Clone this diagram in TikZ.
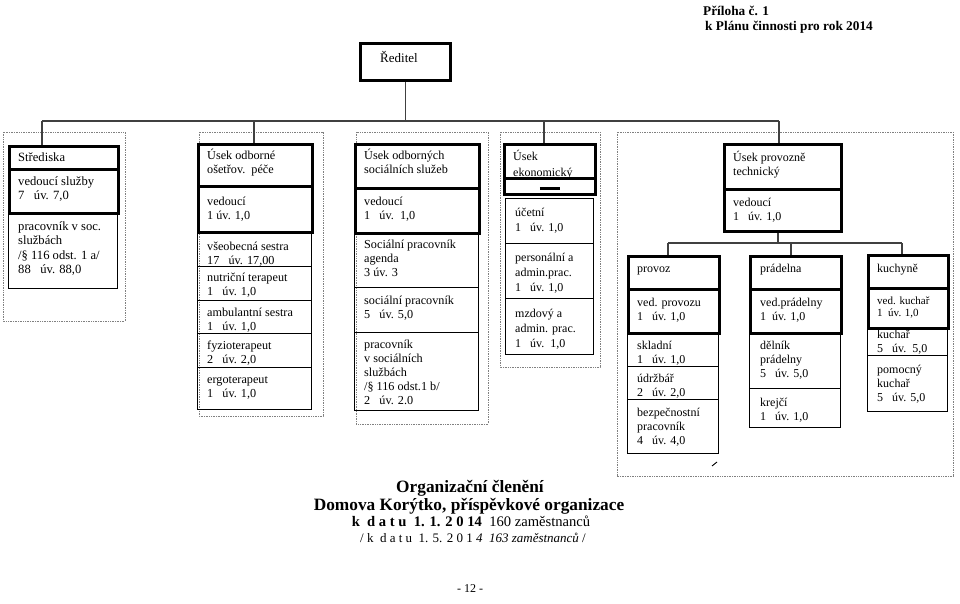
\documentclass[tikz,border=0pt]{standalone}
\usepackage{fontspec}
\setmainfont{Liberation Serif}
\newcommand\cellfont{\fontsize{12.2}{14}\selectfont\lineskiplimit=-30pt\relax}
\newcommand\widefont{\fontsize{12}{15.3}\selectfont\lineskiplimit=-30pt\relax}
\newcommand\midfont{\fontsize{12}{14.3}\selectfont\lineskiplimit=-30pt\relax}
\newcommand\firstfont{\fontsize{12.6}{14.4}\selectfont\lineskiplimit=-30pt\relax}
\newcommand\smallcellfont{\fontsize{11}{12.7}\selectfont\lineskiplimit=-30pt\relax}
\newcommand\mkcell[9][]{%
 \node[#2, anchor=north west, minimum width={#6-#4}, minimum height={#7-#5}] (#3) at (#4,#5) {};
 \node[celltext, #1] (#3t) at ({#4+10},{#8-11}) {\rule{0pt}{11pt}#9};}
\tikzset{
 thickbox/.style={draw=black, line width=2.8pt, inner sep=0pt},
 thinbox/.style={draw=black, line width=1pt, inner sep=0pt},
 dotbox/.style={draw=black!50, densely dotted, line width=0.7pt},
 conn/.style={draw=black!75, line width=1.1pt},
 celltext/.style={anchor=north west, align=left, inner sep=0pt, font=\cellfont},
 fwide/.style={font=\widefont},
 fmid/.style={font=\midfont},
 ffirst/.style={font=\firstfont},
 fsmall/.style={font=\smallcellfont},
}
\begin{document}
\begin{tikzpicture}[x=1pt,y=-1pt]
\useasboundingbox[fill=white] (0,0) rectangle (960,603);

% header
\node[font=\bfseries\fontsize{13.3}{15}\selectfont, anchor=base west, inner sep=0pt] (h1) at (703,15) {Příloha č. 1};
\node[font=\bfseries\fontsize{13.3}{15}\selectfont, anchor=base west, inner sep=0pt] (h2) at (705,30) {k Plánu činnosti pro rok 2014};

% dotted group frames
\draw[dotbox] (3,132) rectangle (125,321);
\draw[dotbox] (199,132) rectangle (323,416);
\draw[dotbox] (356,132) rectangle (488,424);
\draw[dotbox] (500,132) rectangle (600,367);
\draw[dotbox] (617,132) rectangle (953,476);

% director
\node[thickbox, anchor=north west, minimum width=90, minimum height=37] (red) at (359,42) {};
\node[font=\fontsize{13}{15}\selectfont, anchor=base, inner sep=0pt] (redt) at (399,62) {Ředitel};

% column 1
\mkcell[ffirst]{thinbox}{c1c}{8}{212}{117}{288}{230}{pracovník v soc.\\službách\\/§ 116 odst. 1 a/\\88~~~úv. 88,0}
\mkcell[ffirst]{thickbox}{c1a}{8}{145}{117}{168}{161}{Střediska}
\mkcell[ffirst]{thickbox}{c1b}{8}{168}{117}{212}{185}{vedoucí služby\\7~~~úv. 7,0}

% column 2
\mkcell{thinbox}{c2c}{197}{231}{311}{266}{250}{všeobecná sestra\\17~~~úv. 17,00}
\mkcell{thinbox}{c2d}{197}{266}{311}{300}{281}{nutriční terapeut\\1~~~úv. 1,0}
\mkcell{thinbox}{c2e}{197}{300}{311}{333}{316}{ambulantní sestra\\1~~~úv. 1,0}
\mkcell{thinbox}{c2f}{197}{333}{311}{367}{349}{fyzioterapeut\\2~~~úv. 2,0}
\mkcell{thinbox}{c2g}{197}{367}{311}{409}{383}{ergoterapeut\\1~~~úv. 1,0}
\mkcell{thickbox}{c2a}{197}{143}{311}{185}{159}{Úsek odborné\\ošetřov.~~péče}
\mkcell{thickbox}{c2b}{197}{185}{311}{231}{205}{vedoucí\\1 úv. 1,0}

% column 3
\mkcell{thinbox}{c3c}{354}{232}{478}{287}{248}{Sociální pracovník\\agenda\\3 úv. 3}
\mkcell{thinbox}{c3d}{354}{287}{478}{332}{304}{sociální pracovník\\5~~~úv. 5,0}
\mkcell{thinbox}{c3e}{354}{332}{478}{410}{348}{pracovník\\v sociálních\\službách\\/§ 116 odst.1 b/\\2~~~úv. 2.0}
\mkcell{thickbox}{c3a}{354}{143}{478}{187}{159}{Úsek odborných\\sociálních služeb}
\mkcell{thickbox}{c3b}{354}{187}{478}{232}{205}{vedoucí\\1~~~úv.~~1,0}

% column 4
\mkcell[fwide]{thinbox}{c4c}{505}{198}{593}{243}{216}{účetní\\1~~~úv. 1,0}
\mkcell[fwide]{thinbox}{c4d}{505}{243}{593}{298}{261}{personální a\\admin.prac.\\1~~~úv. 1,0}
\mkcell[fwide]{thinbox}{c4e}{505}{298}{593}{354}{317}{mzdový a\\admin. prac.\\1~~~úv.~~1,0}
\mkcell[fwide,font=\fontsize{12}{16}\selectfont]{thickbox}{c4a}{503}{143}{594}{177}{160}{Úsek\\ekonomický}
\node[thickbox, anchor=north west, minimum width=91, minimum height=16] (c4b) at (503,177) {};
\draw[line width=2.6pt] ([xshift=-10pt,yshift=-2pt]c4b.center) -- ([xshift=10pt,yshift=-2pt]c4b.center);

% column 5 head
\mkcell[fmid]{thickbox}{c5a}{723}{143}{840}{188}{161}{Úsek provozně\\technický}
\mkcell[fmid]{thickbox}{c5b}{723}{188}{840}{230}{206}{vedoucí\\1~~~úv. 1,0}

% provoz
\mkcell[fmid]{thinbox}{p3}{627}{332}{718}{366}{349}{skladní\\1~~~úv. 1,0}
\mkcell[fmid]{thinbox}{p4}{627}{366}{718}{399}{382}{údržbář\\2~~~úv. 2,0}
\mkcell[fmid]{thinbox}{p5}{627}{399}{718}{453}{416}{bezpečnostní\\pracovník\\4~~~úv. 4,0}
\mkcell[fmid]{thickbox}{p1}{627}{255}{718}{288}{272}{provoz}
\mkcell[fmid]{thickbox}{p2}{627}{288}{718}{332}{306}{ved. provozu\\1~~~úv. 1,0}

% pradelna
\mkcell[fmid,xshift=1pt]{thinbox}{r3}{749}{332}{840}{388}{349}{dělník\\prádelny\\5~~~úv. 5,0}
\mkcell[fmid,xshift=1pt]{thinbox}{r4}{749}{388}{840}{427}{406}{krejčí\\1~~~úv. 1,0}
\mkcell[fmid,xshift=1pt]{thickbox}{r1}{749}{255}{840}{288}{272}{prádelna}
\mkcell[fmid,xshift=1pt]{thickbox}{r2}{749}{288}{840}{332}{306}{ved.prádelny\\1~~úv. 1,0}

% kuchyne
\mkcell[fmid]{thinbox}{k3}{867}{327}{947}{355}{338}{kuchař\\5~~~úv.~~5,0}
\mkcell[fmid]{thinbox}{k4}{867}{355}{947}{411}{373}{pomocný\\kuchař\\5~~~úv. 5,0}
\mkcell[fmid]{thickbox}{k1}{867}{254}{947}{287}{272}{kuchyně}
\mkcell[fsmall]{thickbox}{k2}{867}{287}{947}{327}{304}{ved. kuchař\\1~~úv. 1,0}

% connectors
\coordinate (busL) at (42,121);
\coordinate (busR) at (779,121);
\coordinate (d2) at (254,121);
\coordinate (d4) at (544,121);
\draw[conn] (red.south) -- (red.south |- busL);
\draw[conn] (busL) -- (busR);
\draw[conn] (busL) -- (busL |- c1a.north);
\draw[conn] (d2) -- (d2 |- c2a.north);
\draw[conn] (d4) -- (d4 |- c4a.north);
\draw[conn] (busR) -- (busR |- c5a.north);

\coordinate (pb) at (778,243);
\coordinate (pbL) at (668,243);
\coordinate (pbM) at (791,243);
\coordinate (pbR) at (902,243);
\draw[conn] (c5b.south -| pb) -- (pb);
\draw[conn] (pbL) -- (pbR);
\draw[conn] (pbL) -- (pbL |- p1.north);
\draw[conn] (pbM) -- (pbM |- r1.north);
\draw[conn] (pbR) -- (pbR |- k1.north);

% small stray mark
\draw[line width=0.9pt] (712,466) -- (717,462);

% title
\node[font=\bfseries\fontsize{17.3}{19}\selectfont, anchor=base, inner sep=0pt] (t1) at (470,492) {Organizační členění};
\node[font=\bfseries\fontsize{17.3}{19}\selectfont, anchor=base, inner sep=0pt] (t2) at (469,510) {Domova Korýtko, příspěvkové organizace};
\node[font=\fontsize{14.6}{16}\selectfont, anchor=base, inner sep=0pt] (t3) at (471,526) {\textbf{k~ d a t u~ 1. 1. 2 0 14}~~160 zaměstnanců};
\node[font=\fontsize{13}{16}\selectfont, anchor=base, inner sep=0pt] (t4) at (473,542) {/ k~ d a t u~ 1. 5. 2 0 1 \textit{4}~~\textit{163 zaměstnanců} /};

\node[font=\fontsize{12}{14}\selectfont, anchor=base, inner sep=0pt] (pg) at (470,592) {- 12 -};
\end{tikzpicture}
\end{document}
